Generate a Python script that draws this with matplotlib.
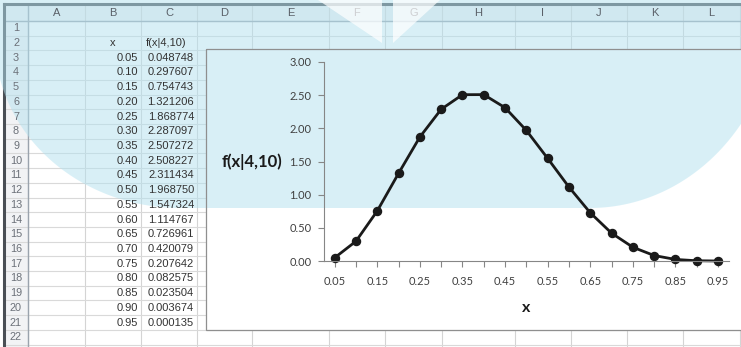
import numpy as np
import matplotlib

matplotlib.use("Agg")
import matplotlib.pyplot as plt
from matplotlib.patches import Rectangle, Polygon

W, H = 741, 347

# sheet contents
COL_LETTERS = ["A", "B", "C", "D", "E", "F", "G", "H", "I", "J", "K", "L"]
X_LABELS = ["0.05", "0.10", "0.15", "0.20", "0.25", "0.30", "0.35", "0.40", "0.45", "0.50",
            "0.55", "0.60", "0.65", "0.70", "0.75", "0.80", "0.85", "0.90", "0.95"]
F_VALUES = [0.048748, 0.297607, 0.754743, 1.321206, 1.868774, 2.287097, 2.507272, 2.508227,
            2.311434, 1.968750, 1.547324, 1.114767, 0.726961, 0.420079, 0.207642, 0.082575,
            0.023504, 0.003674, 0.000135]
Y_TICKS = [0.0, 0.5, 1.0, 1.5, 2.0, 2.5, 3.0]

# layout in screen pixels
COL_EDGES = [4, 28, 85, 141, 197, 252, 329, 385, 442, 515, 571, 627, 683, 740]
HEADER_TOP, HEADER_BOT = 4, 21
ROW_H = 14.71
N_ROWS = 22
CHART_BOX = (206, 49, 570, 281)          # x, y, w, h
PLOT_BOX = (324, 62, 404.7, 199)         # x, y(top), w, h

CELL_FONT = ["Liberation Sans", "DejaVu Sans"]
CHART_FONT = ["Lato", "DejaVu Sans"]


def row_top(r):
    return HEADER_BOT + (r - 1) * ROW_H


def watermark_outline():
    t = np.linspace(0, np.pi / 2, 80)
    left_arc = np.column_stack([180 - 185 * np.cos(t), 40 + 168 * np.sin(t)])
    right_arc = np.column_stack([590 + 188 * np.sin(t), 208 * np.cos(t)])
    return np.vstack([[[0, 0]], left_arc, right_arc, [[W, 0]]])


def main():
    fig = plt.figure(figsize=(W / 100, H / 100), dpi=100)
    fig.patch.set_facecolor("white")

    sheet = fig.add_axes([0, 0, 1, 1], zorder=1)
    sheet.set_xlim(0, W)
    sheet.set_ylim(H, 0)
    sheet.axis("off")

    # header row and row-number column
    sheet.add_patch(Rectangle((COL_EDGES[0], HEADER_TOP), W, HEADER_BOT - HEADER_TOP,
                              fc="#eef0f3", ec="none", zorder=1))
    sheet.add_patch(Rectangle((COL_EDGES[0], HEADER_BOT), COL_EDGES[1] - COL_EDGES[0], H,
                              fc="#f2f3f5", ec="none", zorder=1))

    # grid lines
    for x in COL_EDGES[1:]:
        sheet.plot([x, x], [HEADER_TOP, H], color="#d4d4d4", lw=0.8, zorder=2)
    for r in range(1, N_ROWS + 2):
        y = row_top(r)
        sheet.plot([COL_EDGES[0], W], [y, y], color="#d9d9d9", lw=0.8, zorder=2)
    sheet.plot([COL_EDGES[0], W], [HEADER_BOT, HEADER_BOT], color="#9aa3ad", lw=1.0, zorder=2)
    sheet.plot([COL_EDGES[1], COL_EDGES[1]], [HEADER_TOP, H], color="#9aa3ad", lw=1.0, zorder=2)
    sheet.plot([COL_EDGES[0], W], [HEADER_TOP, HEADER_TOP], color="#4a4f55", lw=2.2, zorder=2)
    sheet.plot([COL_EDGES[0], COL_EDGES[0]], [HEADER_TOP, H], color="#4a4f55", lw=2.2, zorder=2)

    # chart frame (hides the grid under it)
    bx, by, bw, bh = CHART_BOX
    sheet.add_patch(Rectangle((bx, by), bw, bh, fc="white", ec="none", zorder=3))

    # light blue watermark, blended over backgrounds but under text and lines
    sheet.add_patch(Polygon(watermark_outline(), closed=True, fc=(179 / 255, 225 / 255, 239 / 255),
                            ec="none", alpha=0.5, zorder=4))
    sheet.add_patch(Rectangle((bx, by), bw, bh, fc="none", ec="#8f8f8f", lw=0.9, zorder=5))

    for i, letter in enumerate(COL_LETTERS):
        cx = (COL_EDGES[i + 1] + COL_EDGES[i + 2]) / 2
        sheet.text(cx, (HEADER_TOP + HEADER_BOT) / 2 + 0.5, letter, ha="center", va="center",
                   fontsize=8, color="#5a6068", family=CELL_FONT, zorder=6)
    for r in range(1, N_ROWS + 1):
        sheet.text((COL_EDGES[0] + COL_EDGES[1]) / 2, row_top(r) + ROW_H / 2, str(r),
                   ha="center", va="center", fontsize=7.8, color="#6b7078",
                   family=CELL_FONT, zorder=6)

    # cell values
    sheet.text((COL_EDGES[2] + COL_EDGES[3]) / 2, row_top(2) + ROW_H / 2, "x",
               ha="center", va="center", fontsize=8, color="#333333", family=CELL_FONT, zorder=6)
    sheet.text(COL_EDGES[3] + 5, row_top(2) + ROW_H / 2, "f(x|4,10)",
               ha="left", va="center", fontsize=8, color="#333333", family=CELL_FONT, zorder=6)
    for k, (xl, fv) in enumerate(zip(X_LABELS, F_VALUES)):
        yc = row_top(3 + k) + ROW_H / 2
        sheet.text(COL_EDGES[3] - 3, yc, xl, ha="right", va="center", fontsize=8,
                   color="#333333", family=CELL_FONT, zorder=6)
        sheet.text(COL_EDGES[4] - 3, yc, f"{fv:.6f}", ha="right", va="center", fontsize=8,
                   color="#333333", family=CELL_FONT, zorder=6)

    # chart
    px, py, pw, ph = PLOT_BOX
    ax = fig.add_axes([px / W, 1 - (py + ph) / H, pw / W, ph / H], zorder=2)
    ax.patch.set_alpha(0)
    idx = np.arange(len(F_VALUES))
    ax.plot(idx, F_VALUES, color="#1a1a1a", lw=2.0, marker="o", markersize=5.8,
            markerfacecolor="#1a1a1a", markeredgecolor="#1a1a1a", clip_on=False)
    ax.set_xlim(-0.5, len(F_VALUES) - 0.5)
    ax.set_ylim(0, 3)
    ax.set_yticks(Y_TICKS)
    ax.set_yticklabels([f"{v:.2f}" for v in Y_TICKS])
    ax.set_xticks(idx)
    ax.set_xticklabels([lab if i % 2 == 0 else "" for i, lab in enumerate(X_LABELS)])
    for side in ["top", "right"]:
        ax.spines[side].set_visible(False)
    for side in ["left", "bottom"]:
        ax.spines[side].set_color("#868686")
        ax.spines[side].set_linewidth(0.8)
    ax.tick_params(axis="both", direction="out", length=4, width=0.8, color="#868686",
                   labelsize=8, labelcolor="#404040")
    ax.tick_params(axis="x", pad=7)
    ax.tick_params(axis="y", pad=5)
    for lab in ax.get_xticklabels() + ax.get_yticklabels():
        lab.set_family(CHART_FONT)
    ax.set_xlabel("x", fontsize=11.5, fontweight="bold", family=CHART_FONT, color="#1a1a1a",
                  va="center")
    ax.xaxis.set_label_coords(0.499, -0.236)
    ax.set_ylabel("f(x|4,10)", fontsize=12, fontweight="bold", family=CHART_FONT,
                  color="#1a1a1a", rotation=0, ha="right", va="center")
    ax.yaxis.set_label_coords(-0.104, 0.4975)

    # white notches at the top of the watermark
    over = fig.add_axes([0, 0, 1, 1], zorder=10)
    over.set_xlim(0, W)
    over.set_ylim(H, 0)
    over.axis("off")
    over.add_patch(Polygon([[318, 0], [382, 0], [382, 43]], closed=True, fc="white",
                           ec="none", alpha=0.7))
    over.add_patch(Polygon([[393, 0], [440, 0], [393, 43]], closed=True, fc="white",
                           ec="none", alpha=0.7))

    fig.savefig("out.png", dpi=100)
    plt.close(fig)


if __name__ == "__main__":
    main()
